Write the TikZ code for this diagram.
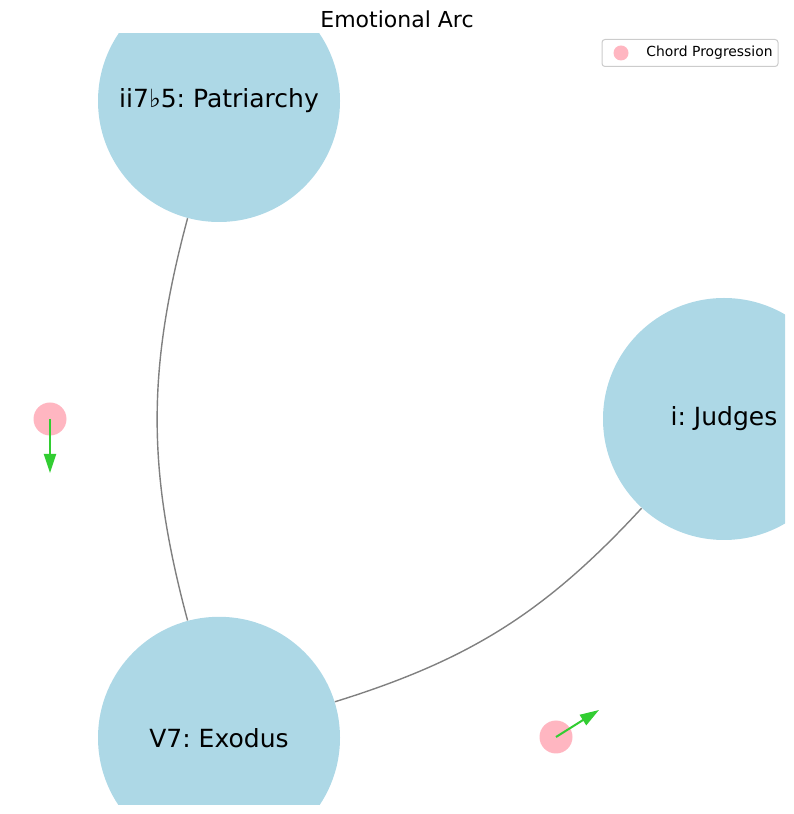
\documentclass[tikz,border=0pt]{standalone}
\usepackage{fontspec}
\setmainfont{DejaVu Sans}
\usetikzlibrary{positioning, arrows.meta}
\definecolor{nodeblue}{HTML}{ADD8E6}
\definecolor{chordpink}{HTML}{FFB6C1}
\definecolor{flowgreen}{HTML}{32CD32}
\frenchspacing
\tikzset{main node/.style={circle, fill=nodeblue, minimum size=242pt, inner sep=0pt, font=\fontsize{25}{30}\selectfont},
	chord node/.style={circle, fill=chordpink, minimum size=33pt, inner sep=0pt},
	flow arrow/.style={draw=flowgreen, line width=2pt, -{Triangle[length=19pt, width=12pt]}},}

\begin{document}
\begin{tikzpicture}[x=1pt, y=1pt, thick]
			\useasboundingbox (0,0) rectangle (794,814);
			% Title
			\node[font=\fontsize{22}{26}\selectfont] (title) at (397,795) {Emotional Arc};
			\begin{scope}
			\clip (0,9) rectangle (785,780);
			% Chords
			\node[main node] (ii) at (219,713) {ii7♭5: Patriarchy};
			\node[main node] [below = 394pt of ii] (v7) {V7: Exodus};
			\node[main node] (i) at (724,395) {i: Judges};
			% Paths
			\path[draw, gray, line width=1.4pt]
			(ii) edge [bend right=15] (v7)
			(v7) edge [bend right=15] (i);
			% Progression
			\node[chord node] (c1) at (50,395) {};
			\node[chord node] (c2) at (556,77) {};
			\coordinate (c1 tip) at (50,341);
			\coordinate (c2 tip) at (599,104);
			\draw[flow arrow] (c1.center) -- (c1 tip);
			\draw[flow arrow] (c2.center) -- (c2 tip);
			% Legend
			\node[draw=black!20, fill=white, rounded corners=3pt, line width=1pt, minimum width=176pt, minimum height=27pt, inner sep=0pt] (legend) at (690,761) {};
			\node[circle, fill=chordpink, minimum size=15pt, inner sep=0pt] (legend mark) at (621,761) {};
			\node[anchor=west, inner sep=0pt, font=\fontsize{13.9}{16}\selectfont] (legend text) at (646,761) {Chord Progression};
			\end{scope}
		\end{tikzpicture}
\end{document}
